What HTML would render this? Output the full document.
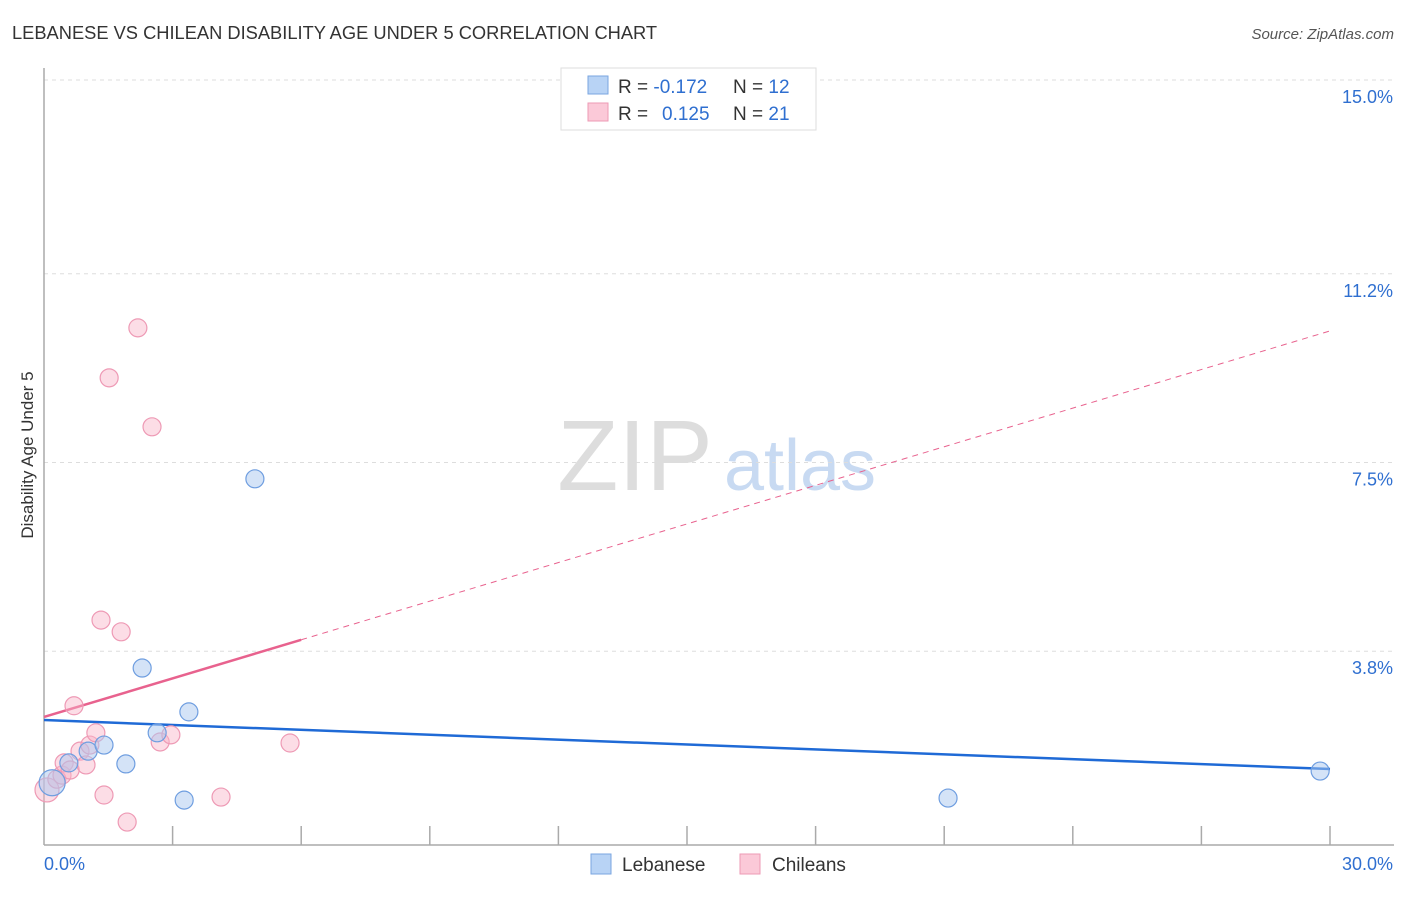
<!DOCTYPE html>
<html><head><meta charset="utf-8"><style>
body{margin:0;background:#fff;font-family:"Liberation Sans",sans-serif;}
svg text{font-family:"Liberation Sans",sans-serif;}
</style></head><body>
<svg id="chart" width="1406" height="892" xmlns="http://www.w3.org/2000/svg">
<text x="12" y="39" font-size="18.3" fill="#333">LEBANESE VS CHILEAN DISABILITY AGE UNDER 5 CORRELATION CHART</text>
<text x="1394" y="39" font-size="15" fill="#555" text-anchor="end" font-style="italic">Source: ZipAtlas.com</text>
<g>
<text x="635" y="490" font-size="100" fill="#ddd" font-family="Liberation Serif,serif" text-anchor="middle">ZIP</text>
<text x="800" y="490" font-size="72" fill="#c8daf2" text-anchor="middle">atlas</text>
</g>
<g id="grid"></g>
<g id="axes"></g>
<text transform="translate(33,455) rotate(-90)" font-size="17" fill="#333" text-anchor="middle">Disability Age Under 5</text>
<g id="lines"></g>
<g id="points"></g>
<g>
<rect x="561" y="68" width="255" height="62" fill="#fff" stroke="#ddd"/>
<rect x="588" y="76" width="20" height="18" fill="#b8d3f5" stroke="#7aa6e0"/>
<rect x="588" y="103" width="20" height="18" fill="#fbc9d8" stroke="#ee9ab5"/>
<text x="618" y="93" font-size="19" fill="#333">R = <tspan fill="#2f6fd0">-0.172</tspan><tspan x="733">N = </tspan><tspan fill="#2f6fd0">12</tspan></text>
<text x="618" y="120" font-size="19" fill="#333">R = <tspan x="662" fill="#2f6fd0">0.125</tspan><tspan x="733">N = </tspan><tspan fill="#2f6fd0">21</tspan></text>
</g>
<g>
<rect x="591" y="854" width="20" height="20" fill="#b8d3f5" stroke="#7aa6e0"/>
<text x="622" y="871" font-size="19" fill="#333">Lebanese</text>
<rect x="740" y="854" width="20" height="20" fill="#fbc9d8" stroke="#ee9ab5"/>
<text x="772" y="871" font-size="19" fill="#333">Chileans</text>
</g>
</svg>
<script>
const blueX=[0.19,0.58,1.03,1.40,1.91,2.29,2.64,3.27,3.38,4.92,21.09,29.77];
const blueY=[1.22,1.61,1.84,1.96,1.59,3.47,2.20,0.88,2.61,7.18,0.92,1.45];
const blueR=[13,9,9,9,9,9,9,9,9,9,9,9];
const pinkX=[0.07,0.30,0.42,0.47,0.61,0.84,0.98,1.07,1.21,0.70,1.33,1.80,1.40,1.94,1.52,2.19,2.52,2.71,2.96,4.13,5.74];
const pinkY=[1.08,1.29,1.37,1.61,1.47,1.84,1.57,1.96,2.20,2.73,4.41,4.18,0.98,0.45,9.16,10.14,8.20,2.02,2.16,0.94,2.00];
const pinkR=[12,9,9,9,9,9,9,9,9,9,9,9,9,9,9,9,9,9,9,9,9];
const blueTrend=[2.45,1.49];
const pinkTrend=[2.51,10.08];
const yTicks=[3.8,7.5,11.2,15.0];
const yTickLabels=["3.8%","7.5%","11.2%","15.0%"];
const xTicks=[0,3,6,9,12,15,18,21,24,27,30];
const NS="http://www.w3.org/2000/svg";
const sx=v=>44+v*(1330-44)/30;
const sy=v=>845-v*(845-80)/15;
function mk(tag,attrs,parent){const e=document.createElementNS(NS,tag);for(const k in attrs)e.setAttribute(k,attrs[k]);document.getElementById(parent).appendChild(e);return e;}
yTicks.forEach((t,i)=>{
 const l=mk('line',{x1:44,x2:1394,y1:sy(t),y2:sy(t),stroke:'#ddd','stroke-dasharray':'4,4'},'grid');
 
 
 const tx=mk('text',{x:1393,y:sy(t)+23,'font-size':18,fill:'#2f6fd0','text-anchor':'end'},'axes');
 tx.textContent=yTickLabels[i];
 
 
});
mk('line',{x1:44,x2:44,y1:68,y2:845,stroke:'#aaa','stroke-width':1.5},'axes');
mk('line',{x1:44,x2:1394,y1:845,y2:845,stroke:'#aaa','stroke-width':1.5},'axes');
xTicks.forEach(t=>{if(t>0){const l=mk('line',{x1:sx(t),x2:sx(t),y1:826,y2:845,stroke:'#aaa','stroke-width':1.5},'axes');
 
 }});
let a=mk('text',{x:44,y:870,'font-size':18,fill:'#2f6fd0'},'axes');a.textContent='0.0%';


a=mk('text',{x:1393,y:870,'font-size':18,fill:'#2f6fd0','text-anchor':'end'},'axes');a.textContent='30.0%';


const pinkAt=x=>pinkTrend[0]+(pinkTrend[1]-pinkTrend[0])*x/30;
let ln=mk('line',{x1:sx(0),y1:sy(blueTrend[0]),x2:sx(30),y2:sy(blueTrend[1]),stroke:'#1f6ad6','stroke-width':2.5},'lines');


ln=mk('line',{x1:sx(0),y1:sy(pinkAt(0)),x2:sx(6),y2:sy(pinkAt(6)),stroke:'#e8628e','stroke-width':2.5},'lines');


ln=mk('line',{x1:sx(6),y1:sy(pinkAt(6)),x2:sx(30),y2:sy(pinkAt(30)),stroke:'#e8628e','stroke-width':1,'stroke-dasharray':'6,5'},'lines');


pinkX.forEach((x,i)=>{const c=mk('circle',{cx:sx(x),cy:sy(pinkY[i]),r:pinkR[i],fill:'rgba(248,180,200,0.45)',stroke:'#ee9ab5','stroke-width':1.2},'points');
 
 });
blueX.forEach((x,i)=>{const c=mk('circle',{cx:sx(x),cy:sy(blueY[i]),r:blueR[i],fill:'rgba(170,200,240,0.5)',stroke:'#6f9ee0','stroke-width':1.2},'points');
 
 });
</script>
</body></html>
